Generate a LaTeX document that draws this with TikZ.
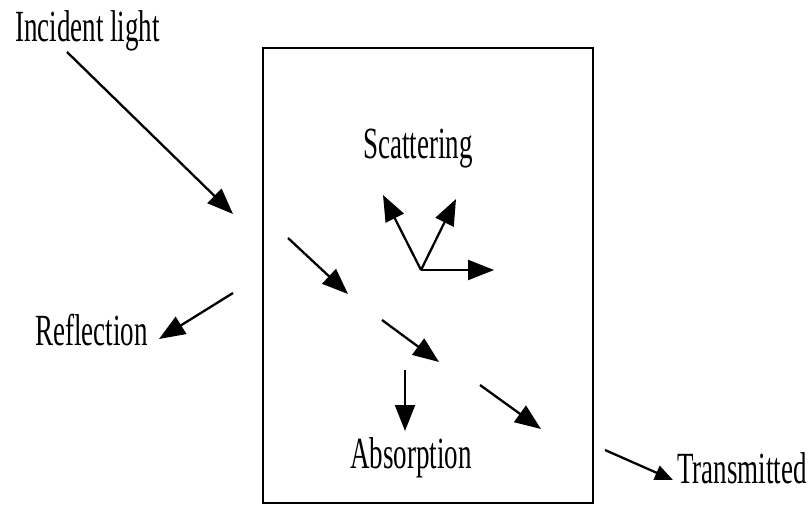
\documentclass[tikz,border=0pt]{standalone}
\usepackage{fontspec}
\setmainfont{Liberation Serif}
\usetikzlibrary{arrows.meta}
\newcommand{\vstr}[1]{\scalebox{1}[1.65]{#1}}
\tikzset{
  lbl/.style={anchor=base west, inner sep=0pt, font=\fontsize{27}{30}\selectfont},
  ray/.style={line width=2.3pt, -{Triangle[length=26pt,width=20pt]}},
  smallray/.style={line width=2.3pt, -{Triangle[length=18pt,width=15pt]}},
  boxline/.style={line width=2.5pt}
}
\begin{document}
\begin{tikzpicture}[x=1pt,y=-1pt]
\useasboundingbox (0,0) rectangle (810,506);
\draw[boxline] (263,48) rectangle (593,503);
% labels
\node[lbl] (inc) at (15,41) {\vstr{Incident light}};
\node[lbl] (sca) at (363,158) {\vstr{Scattering}};
\node[lbl] (ref) at (35,345) {\vstr{Reflection}};
\node[lbl] (abs) at (350,468) {\vstr{Absorption}};
\node[lbl] (tra) at (677,483) {\vstr{Transmitted}};
% coordinates
\coordinate (i0) at (67,52);
\coordinate (i1) at (233,214);
\coordinate (r0) at (233,293);
\coordinate (r1) at (159,339);
\coordinate (a0) at (288,238);
\coordinate (a1) at (348,294);
\coordinate (s0) at (421,270);
\coordinate (s1) at (383,195);
\coordinate (s2) at (456,199);
\coordinate (s3) at (494,270);
\coordinate (b0) at (382,320);
\coordinate (b1) at (439,362);
\coordinate (c0) at (405,370);
\coordinate (c1) at (405,431);
\coordinate (d0) at (480,385);
\coordinate (d1) at (541,429);
\coordinate (t0) at (605,450);
\coordinate (t1) at (673,480);
% rays
\draw[ray] (i0) -- (i1);
\draw[ray] (r0) -- (r1);
\draw[ray] (a0) -- (a1);
\draw[ray] (s0) -- (s1);
\draw[ray] (s0) -- (s2);
\draw[ray] (s0) -- (s3);
\draw[ray] (b0) -- (b1);
\draw[ray] (c0) -- (c1);
\draw[ray] (d0) -- (d1);
\draw[smallray] (t0) -- (t1);
\end{tikzpicture}
\end{document}
